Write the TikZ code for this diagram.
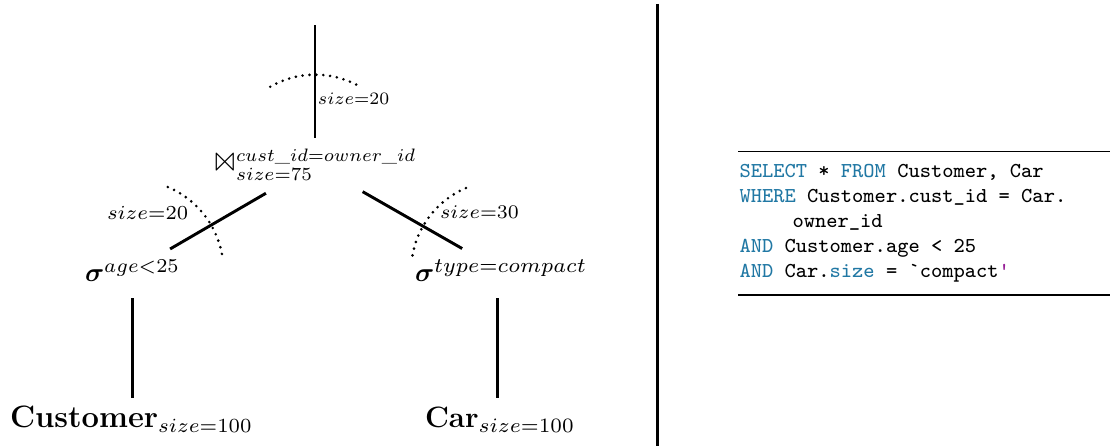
\documentclass[tikz,border=0pt]{standalone}
\usepackage{amsmath,amssymb,latexsym}
\usepackage{bm}
\definecolor{kw}{RGB}{33,120,164}
\definecolor{strc}{RGB}{150,30,150}
% relation names, leaf names and cardinality annotations
\newcommand{\relname}[2]{\text{\fontsize{#1}{13}\selectfont\bfseries #2}}
\newcommand{\annot}[2]{\scalebox{#1}{$\scriptstyle #2$}}

\begin{document}
\begin{tikzpicture}[x=0.377pt,y=0.377pt,
  lbl/.style={font=\normalsize, inner sep=0pt, outer sep=0pt, anchor=base west},
  edge/.style={line width=1.1pt},
  cut/.style={line width=1.1pt, dash pattern=on 0pt off 2.6pt, line cap=round},
  code/.style={font=\footnotesize\ttfamily, inner sep=0pt, anchor=base west},
  rule/.style={line width=0.45pt}]
\useasboundingbox (0,0) rectangle (1110,446);

% query plan operators
\node[lbl] (join) at (214,273) {$\scalebox{1.15}{$\Join$}^{\annot{0.97}{cust\_id=owner\_id}}_{size=75}$};
\node[lbl] (selL) at (85,164) {$\bm{\sigma}^{\annot{1.06}{age<25}}$};
\node[lbl] (selR) at (415,164) {$\bm{\sigma}^{\annot{1.12}{type=compact}}$};
\node[lbl] (cust) at (10,18) {$\relname{11.65}{Customer}_{\annot{1.08}{size=100}}$};
\node[lbl] (car) at (425,18) {$\relname{11.1}{Car}_{\annot{1.1}{size=100}}$};
\coordinate (out) at (315,421);

% plan edges
\draw[edge, shorten <=4.1pt] (out |- join.north) -- (out);
\draw[edge, shorten <=21.5pt, shorten >=16.4pt] (join.center) -- (selL.center);
\draw[edge, shorten <=20.6pt, shorten >=16.9pt] (join.center) -- (selR.center);
\draw[edge, shorten <=10.4pt, shorten >=11.4pt] ([xshift=0.3pt]cust.center |- selL.center) -- ([xshift=0.3pt]cust.base);
\draw[edge, shorten <=10.4pt, shorten >=11.4pt] ([xshift=-0.9pt]car.center |- selR.center) -- ([xshift=-0.9pt]car.base);

% cardinality cuts
\draw[cut] ([shift={(62.9:33.9pt)}]join.center) arc[start angle=62.9, end angle=120.5, radius=33.9pt];
\draw[cut] ([shift={(10.7:34.3pt)}]selL.center) arc[start angle=10.7, end angle=68.6, radius=34.3pt];
\draw[cut] ([shift={(113:33.9pt)}]selR.center) arc[start angle=113, end angle=172, radius=33.9pt];

\node[lbl] (szTop) at (318,341) {\annot{0.94}{size=20}};
\node[lbl] (szL) at (107,226) {\annot{1.07}{size=20}};
\node[lbl] (szR) at (440,227) {\annot{1.04}{size=30}};

% divider
\draw[line width=1.13pt] (657.5,442) -- (657.5,0);

% SQL query
\draw[rule] (738,294.3) -- (1110,294.3);
\node[code] (q1) at (739,268) {\textcolor{kw}{SELECT} * \textcolor{kw}{FROM} Customer, Car};
\node[code] (q2) at (739,243) {\textcolor{kw}{WHERE} Customer.cust\_id = Car.};
\node[code] (q3) at (792,218) {owner\_id};
\node[code] (q4) at (739,193) {\textcolor{kw}{AND} Customer.age < 25};
\node[code] (q5) at (739,168) {\textcolor{kw}{AND} Car.\textcolor{kw}{size} = \textasciigrave compact\textcolor{strc}{\textquotesingle}};
\draw[rule] (738,151) -- (1110,151);
\end{tikzpicture}
\end{document}
